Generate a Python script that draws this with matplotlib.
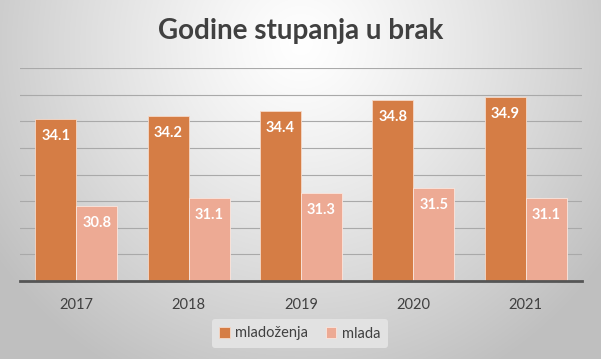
import numpy as np
import matplotlib.pyplot as plt

years = ["2017", "2018", "2019", "2020", "2021"]
mladozenja = [34.1, 34.2, 34.4, 34.8, 34.9]
mlada = [30.8, 31.1, 31.3, 31.5, 31.1]
series_names = ["mladoženja", "mlada"]

c_orange = "#D57D45"
c_salmon = "#EDAA94"

plt.rcParams['font.family'] = ['Lato', 'DejaVu Sans']

fig = plt.figure(figsize=(6.01, 3.59), dpi=100)

# radial gradient background
bg = fig.add_axes([0, 0, 1, 1], zorder=-10)
W, H = 601, 359
yy, xx = np.mgrid[0:H, 0:W]
cx, cy = W * 0.5, H * 0.12
d = np.sqrt(((xx - cx) / (W * 0.62)) ** 2 + ((yy - cy) / (H * 1.05)) ** 2)
d = np.clip(d, 0, 1)
val = 1.0 - 0.25 * d ** 1.2
img = np.dstack([val, val, val])
bg.imshow(img, extent=[0, 1, 0, 1], aspect='auto', origin='upper')
bg.axis('off')

ax = fig.add_axes([20 / W, 1 - 281 / H, 562 / W, (281 - 68) / H])
ax.set_facecolor('none')

x = np.arange(len(years))
bw = 0.365
b1 = ax.bar(x - bw / 2, mladozenja, bw, color=c_orange,
            edgecolor='#f6d9c8', linewidth=0.6, label=series_names[0], zorder=3)
b2 = ax.bar(x + bw / 2, mlada, bw, color=c_salmon,
            edgecolor='#fbe6de', linewidth=0.6, label=series_names[1], zorder=3)

ax.set_ylim(28, 36)
ax.set_xlim(-0.5, len(years) - 0.5)
ax.set_yticks(np.arange(28, 37, 1))
ax.yaxis.grid(True, color='#a9a9a9', linewidth=0.8, zorder=0)
ax.set_axisbelow(True)
ax.tick_params(axis='y', left=False, labelleft=False)
ax.tick_params(axis='x', bottom=False, labelsize=10.5, colors='#404040', pad=9)
ax.set_xticks(x)
ax.set_xticklabels(years)
for s in ['top', 'right', 'left']:
    ax.spines[s].set_visible(False)
ax.spines['bottom'].set_color('#555555')
ax.spines['bottom'].set_linewidth(2)
ax.spines['bottom'].set_zorder(4)

for bars, vals in ((b1, mladozenja), (b2, mlada)):
    for rect, v in zip(bars, vals):
        ax.annotate(f"{v:.1f}", (rect.get_x() + rect.get_width() / 2, v),
                    xytext=(0, -17), textcoords='offset pixels',
                    ha='center', va='center', color='white', fontsize=10.5,
                    fontweight='bold', zorder=5)

fig.text(0.5, 1 - 31 / H, "Godine stupanja u brak", ha='center', va='center',
         fontsize=20, fontweight='bold', color='#404040')

leg = fig.legend(handles=[b1, b2], labels=series_names, loc='center',
                 bbox_to_anchor=(300 / W, 1 - 333.5 / H), ncol=2, frameon=True,
                 fontsize=10.5, handlelength=0.7, handleheight=0.7,
                 handletextpad=0.4, columnspacing=1.2, borderpad=0.5)
leg.get_frame().set_facecolor('#e2e2e2')
leg.get_frame().set_edgecolor('none')
leg.get_frame().set_alpha(1)
for t in leg.get_texts():
    t.set_color('#404040')

fig.savefig('out.png', dpi=100)
